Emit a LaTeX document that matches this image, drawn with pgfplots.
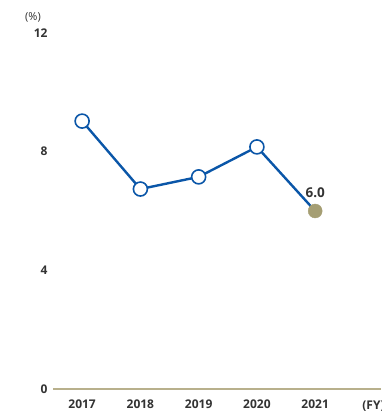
\documentclass[border=0pt]{standalone}
\usepackage{pgfplots}
\pgfplotsset{compat=1.18}
\usetikzlibrary{calc}
\usepackage{fontspec}
\setmainfont{Open Sans}
\definecolor{lineblue}{HTML}{0A56A8}
\definecolor{khakiaxis}{HTML}{B8B08C}
\definecolor{khakidot}{HTML}{A59E73}
\definecolor{labelgray}{HTML}{333333}
\begin{document}
\begin{tikzpicture}
\begin{axis}[
  name=ax,
  scale only axis,
  width=328pt, height=356pt,
  xmin=-0.5, xmax=5.13,
  ymin=0, ymax=12,
  axis line style={draw=none},
  xtick={0,1,2,3,4},
  xticklabels={2017,2018,2019,2020,2021},
  ytick={0,4,8,12},
  major tick length=0pt,
  tick label style={font=\fontsize{12}{14}\selectfont\bfseries, text=labelgray},
  xticklabel style={yshift=-7pt},
  yticklabel style={xshift=-2pt},
  /pgf/number format/assume math mode=true,
  clip=false,
]
% baseline
\draw[khakiaxis, line width=1.6pt] (axis cs:-0.5,0) -- (axis cs:5.13,0);
% ratio series
\addplot[lineblue, line width=2.4pt,
  mark=*, mark size=7pt, mark indices={1,2,3,4},
  mark options={fill=white, draw=lineblue, line width=1.6pt}]
  coordinates {(0,9.03) (1,6.74) (2,7.15) (3,8.16) (4,6.0)};
% latest year
\addplot[draw=none, mark=*, mark size=7pt,
  mark options={fill=khakidot, draw=khakidot},
  nodes near coords={6.0},
  every node near coord/.append style={font=\fontsize{13.5}{15}\selectfont\bfseries, text=labelgray, yshift=10pt}]
  coordinates {(4,6.0)};
\node[anchor=base west, font=\fontsize{12}{14}\selectfont\bfseries, text=labelgray]
  at (axis cs:4.75,0) [yshift=-20pt] {(FY)};
\end{axis}
\node[font=\fontsize{11}{13}\selectfont, text=labelgray] at ($(ax.north west)+(-20pt,16pt)$) {(\%)};
\pgfresetboundingbox
\path[use as bounding box] ($(ax.south west)+(-53pt,-27pt)$) rectangle ($(ax.north east)+(0pt,33pt)$);
\end{tikzpicture}
\end{document}
